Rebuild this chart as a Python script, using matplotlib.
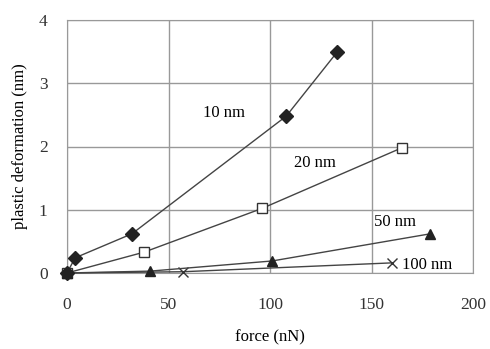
import matplotlib
matplotlib.use("Agg")
import matplotlib.pyplot as plt

# force (nN) vs plastic deformation (nm) for each tip radius
x_10 = [0, 4, 32, 108, 133]
y_10 = [0, 0.24, 0.62, 2.48, 3.49]
x_20 = [0, 38, 96, 165]
y_20 = [0, 0.33, 1.02, 1.98]
x_50 = [0, 41, 101, 179]
y_50 = [0, 0.03, 0.19, 0.62]
x_100 = [0, 57, 160]
y_100 = [0, 0.02, 0.16]

plt.rcParams['font.family'] = ['Liberation Serif', 'DejaVu Serif']

fig = plt.figure(figsize=(4.9, 3.49), dpi=100)
ax = fig.add_axes([67 / 490, 1 - 273 / 349, (473 - 67) / 490, (273 - 20) / 349])

lc = '#444444'
ax.plot(x_100, y_100, color=lc, lw=1.0, marker='x', ms=7.5, mew=1.0, mec='#333333', clip_on=False, zorder=3)
ax.plot(x_20, y_20, color=lc, lw=1.0, marker='s', ms=7.5, mfc='white', mec='#333333', clip_on=False, zorder=3)
ax.plot(x_50, y_50, color=lc, lw=1.0, marker='^', ms=7.5, mfc='#222222', mec='#222222', clip_on=False, zorder=3)
ax.plot(x_10, y_10, color=lc, lw=1.0, marker='D', ms=7.5, mfc='#222222', mec='#222222', clip_on=False, zorder=3)

ax.text(67, 2.53, '10 nm', fontsize=12, ha='left', va='center')
ax.text(112, 1.74, '20 nm', fontsize=12, ha='left', va='center')
ax.text(151, 0.8, '50 nm', fontsize=12, ha='left', va='center')
ax.text(165, 0.13, '100 nm', fontsize=12, ha='left', va='center')

ax.set_xlim(0, 200)
ax.set_ylim(0, 4)
ax.set_xticks([0, 50, 100, 150, 200])
ax.set_yticks([0, 1, 2, 3, 4])
ax.grid(True, color='#999999', lw=1.0)
ax.set_axisbelow(True)
for s in ax.spines.values():
    s.set_color('#999999')
ax.tick_params(length=0, labelsize=12.5, colors='#333333')
ax.tick_params(axis='x', pad=17)
ax.tick_params(axis='y', pad=14)
ax.set_xlabel('force (nN)', fontsize=12, labelpad=12)
ax.set_ylabel('plastic deformation (nm)', fontsize=12, labelpad=8)

fig.savefig('out.png', dpi=100)
